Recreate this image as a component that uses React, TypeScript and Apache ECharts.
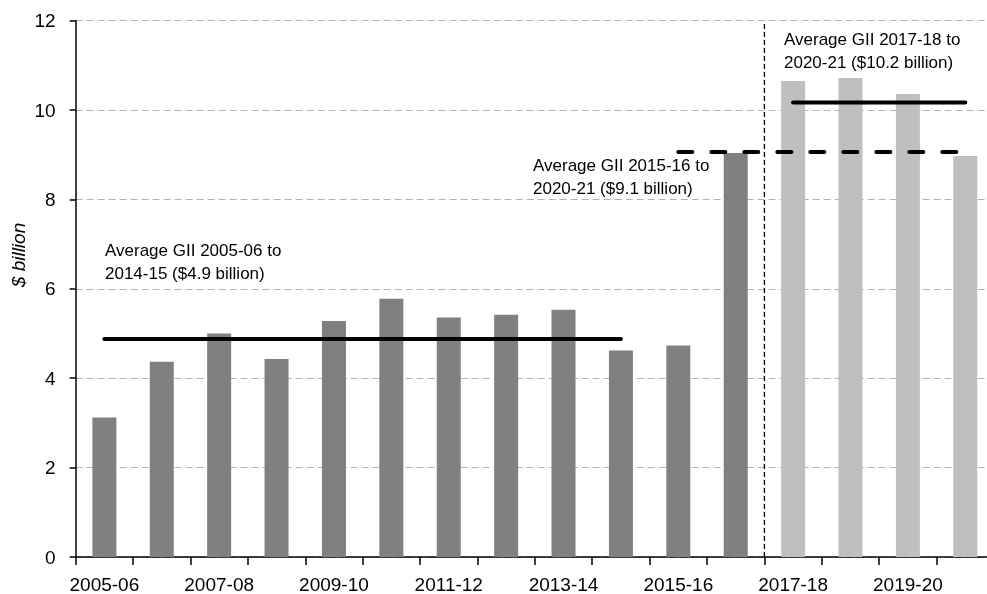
import React, { useEffect, useRef } from "react";
import * as echarts from "echarts";

const categories = [
  "2005-06", "2006-07", "2007-08", "2008-09", "2009-10", "2010-11", "2011-12", "2012-13",
  "2013-14", "2014-15", "2015-16", "2016-17", "2017-18", "2018-19", "2019-20", "2020-21",
];
const giiValues = [3.12, 4.37, 5.0, 4.43, 5.28, 5.78, 5.36, 5.42, 5.53, 4.62, 4.73, 9.04, 10.65, 10.72, 10.36, 8.97];
const yTicks = [0, 2, 4, 6, 8, 10, 12];

const avgEarly = { from: "2005-06", to: "2014-15", value: 4.88 };
const avgMid = { from: "2015-16", to: "2020-21", value: 9.06 };
const avgLate = { from: "2017-18", to: "2020-21", value: 10.17 };
const dividerBefore = "2017-18";

const annotations = [
  "Average GII 2005-06 to\n2014-15 ($4.9 billion)",
  "Average GII 2015-16 to\n2020-21 ($9.1 billion)",
  "Average GII 2017-18 to\n2020-21 ($10.2 billion)",
];

const FONT = "'Liberation Sans', Arial, sans-serif";

function span(a: { from: string; to: string; value: number }) {
  const i0 = categories.indexOf(a.from) + 0.5;
  const i1 = categories.indexOf(a.to) + 0.5;
  return [
    [i0, a.value],
    [i1, a.value],
  ];
}

export default function App() {
  const ref = useRef<HTMLDivElement>(null);
  useEffect(() => {
    if (!ref.current) return;
    const chart = echarts.init(ref.current, undefined, { renderer: "svg" });
    const splitIdx = categories.indexOf(dividerBefore);
    const textStyle = { fontFamily: FONT, fontSize: 17, fill: "#000", lineHeight: 23, verticalAlign: "top" as const };
    chart.setOption({
      animation: false,
      grid: { left: 75.67, right: 0, top: 20.7, bottom: 36.3, containLabel: false },
      xAxis: [
        {
          type: "category",
          data: categories,
          axisLine: { lineStyle: { color: "#000", width: 1.5 } },
          axisTick: { show: true, length: 8, lineStyle: { color: "#000", width: 1.5 }, alignWithLabel: false, interval: 0 },
          axisLabel: { interval: 1, color: "#000", fontSize: 19, fontFamily: FONT, margin: 18 },
          splitLine: { show: false },
        },
        { type: "value", min: 0, max: categories.length, show: false },
      ],
      yAxis: {
        type: "value",
        min: yTicks[0],
        max: yTicks[yTicks.length - 1],
        interval: 2,
        axisLine: { show: true, lineStyle: { color: "#000", width: 1.5 } },
        axisTick: { show: true, length: 6, lineStyle: { color: "#000", width: 1.5 } },
        axisLabel: { color: "#000", fontSize: 19, fontFamily: FONT, margin: 20 },
        splitLine: { show: true, lineStyle: { color: "#b3b3b3", width: 1.2, type: [7, 4] } },
      },
      series: [
        {
          type: "bar",
          data: giiValues,
          barWidth: 24,
          itemStyle: {
            color: (p: any) => (p.dataIndex >= splitIdx ? "#bfbfbf" : "#808080"),
          },
        },
        {
          type: "line",
          xAxisIndex: 1,
          data: span(avgEarly),
          symbol: "none",
          lineStyle: { color: "#000", width: 4, cap: "round" },
        },
        {
          type: "line",
          xAxisIndex: 1,
          data: span(avgMid),
          symbol: "none",
          lineStyle: { color: "#000", width: 4, cap: "round", type: [14, 19] },
        },
        {
          type: "line",
          xAxisIndex: 1,
          data: span(avgLate),
          symbol: "none",
          lineStyle: { color: "#000", width: 4, cap: "round" },
        },
        {
          type: "line",
          xAxisIndex: 1,
          data: [
            [splitIdx, yTicks[0]],
            [splitIdx, yTicks[yTicks.length - 1]],
          ],
          symbol: "none",
          lineStyle: { color: "#000", width: 1.3, type: [5, 3] },
        },
      ],
      graphic: [
        { type: "text", left: 105, top: 238.5, style: { ...textStyle, text: annotations[0] } },
        { type: "text", left: 533, top: 154, style: { ...textStyle, text: annotations[1] } },
        { type: "text", left: 784, top: 27.5, style: { ...textStyle, text: annotations[2] } },
        {
          type: "text",
          x: 18,
          y: 255,
          rotation: Math.PI / 2,
          style: {
            text: "$ billion",
            fontFamily: FONT,
            fontSize: 19,
            fontStyle: "italic",
            fill: "#000",
            align: "center",
            verticalAlign: "middle",
          },
        },
      ],
    });
    return () => chart.dispose();
  }, []);
  return (
    <div style={{ position: "fixed", left: 0, top: 0, width: 987, height: 594, overflow: "hidden" }}>
      <div ref={ref} style={{ width: 994, height: 594 }} />
    </div>
  );
}
